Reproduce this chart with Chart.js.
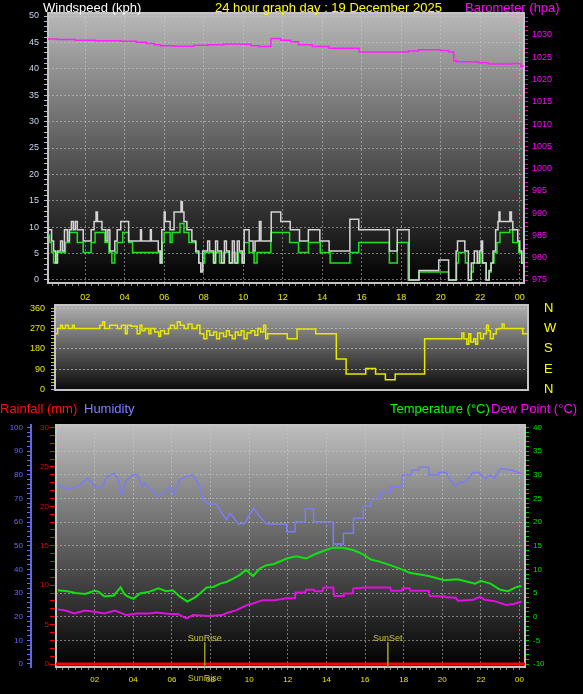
<!DOCTYPE html>
<html>
<head>
<meta charset="utf-8">
<script src="https://cdn.jsdelivr.net/npm/chart.js@4.4.1/dist/chart.umd.min.js"></script>
<style>
body{margin:0;background:#000;width:583px;height:694px;overflow:hidden;position:relative;font-family:"Liberation Sans",Arial,sans-serif}
canvas{position:absolute;left:0}
.t{position:absolute;font-size:13px;line-height:16px;white-space:nowrap}
</style>
</head>
<body>
<canvas id="windChart" width="583" height="303" style="top:0"></canvas>
<canvas id="dirChart" width="583" height="95" style="top:300px"></canvas>
<canvas id="tempChart" width="583" height="279" style="top:415px"></canvas>

<div class="t" style="left:43px;top:0;color:#fff">Windspeed (kph)</div>
<div class="t" style="left:215px;top:0;color:#ffff00">24 hour graph day : 19 December 2025</div>
<div class="t" style="left:465px;top:0;color:#ff00ff">Barometer (hpa)</div>
<div class="t" style="left:0;top:401px;color:#ff1010">Rainfall (mm)</div>
<div class="t" style="left:84px;top:401px;color:#8080ff">Humidity</div>
<div class="t" style="left:390px;top:401px;color:#00ff00">Temperature (°C)</div>
<div class="t" style="left:491px;top:401px;color:#ff00ff">Dew Point (°C)</div>

<script>
// times are hours of the day

// wind gust (kph)
const gustTimes = [0.12,0.3,0.4,0.5,0.6,0.75,0.85,0.95,1.1,1.2,1.3,1.4,1.5,1.6,1.9,2.3,2.45,2.55,2.62,2.85,3.05,3.15,3.25,3.5,3.62,3.8,4.2,4.8,4.85,5.3,5.35,5.7,5.8,5.88,6.0,6.05,6.3,6.5,6.85,6.92,7.0,7.15,7.4,7.6,7.75,7.85,7.95,8.2,8.3,8.5,8.6,8.7,8.9,9.05,9.15,9.3,9.45,9.55,9.7,9.8,9.95,10.05,10.3,10.5,10.6,10.82,10.9,11.42,11.9,12.38,12.85,13.3,13.88,14.35,15.4,15.85,17.4,17.8,18.4,18.9,19.9,20.4,20.78,20.85,21.22,21.4,21.55,21.7,21.85,21.95,22.05,22.12,22.3,22.45,22.55,22.65,22.78,22.9,22.95,23.0,23.5,23.58,23.65,23.9,24.0,24.1,24.22];
const gustVals  = [9.5,7.4,5.5,3.2,5.5,7.4,5.5,9.5,7.4,9.5,11.1,9.5,11.1,9.5,7.4,9.5,11.1,12.9,11.1,9.5,7.4,9.5,5.5,7.4,9.5,11.1,7.4,9.5,7.4,9.5,7.4,5.5,3.2,9.5,12.9,11.1,9.5,12.9,14.8,12.9,11.1,9.5,7.4,5.5,3.2,1.5,5.5,7.4,5.5,3.2,7.4,5.5,3.2,7.4,5.5,3.2,7.4,3.2,7.4,5.5,3.2,9.5,7.4,5.5,7.4,11.1,7.4,12.9,11.1,9.5,7.4,9.5,7.4,5.5,11.5,9.5,5.5,9.5,0,1.8,3.8,0,5.5,7.4,5.5,0,3.2,5.5,3.2,5.5,7.4,3.2,0,1.8,3.2,5.5,9.5,11.1,12.9,11.1,12.9,11.1,9.5,7.4,5.5,3.2,3.2];

// wind average (kph)
const avgTimes = [0.12,0.2,0.3,0.4,0.55,1.0,1.2,1.6,1.9,2.3,2.5,3.0,3.2,3.35,3.5,3.62,3.9,4.2,4.4,5.8,5.9,6.0,6.3,6.4,6.8,7.0,7.25,7.6,7.75,7.85,7.95,8.05,8.5,8.6,8.8,9.0,9.3,9.45,9.6,9.75,9.95,10.05,10.3,10.55,10.7,11.4,12.35,12.8,13.3,13.9,14.4,15.4,15.85,17.4,17.8,18.35,18.9,20.4,20.8,20.9,21.25,21.4,21.55,21.65,22.0,22.1,22.3,22.45,22.55,22.7,22.85,23.0,23.5,23.65,23.95,24.1,24.22];
const avgVals  = [8.5,7.1,5.2,3.2,5.2,7.1,9.0,7.1,5.2,7.1,9.0,7.1,5.2,3.2,5.2,7.1,9.0,7.1,5.2,3.2,7.1,9.0,7.1,9.0,10.7,9.0,7.1,5.2,3.2,1.8,3.2,5.2,3.2,5.2,3.2,5.2,3.2,5.2,3.2,5.2,3.2,7.1,5.2,3.2,5.2,9.0,7.1,5.2,7.1,5.2,3.2,5.2,7.1,3.2,7.1,0,1.5,0,3.2,5.2,3.2,0,1.5,3.2,5.2,3.2,0,1.5,3.2,5.2,7.1,9.0,9.5,7.1,5.2,3.2,3.2];

// barometer (hPa)
const baroTimes = [0.12,0.6,1.5,2.5,3.8,4.6,5.1,5.5,5.8,6.5,7.5,8.2,9.0,9.9,10.4,10.8,11.4,11.9,12.4,12.8,13.5,14.35,15.86,18.36,18.87,19.97,20.4,20.66,20.8,21.9,22.4,23.6,24.05,24.22];
const baroVals  = [1029.1,1029.0,1028.8,1028.7,1028.6,1028.4,1028.1,1027.8,1027.6,1027.5,1027.7,1027.8,1028.0,1027.9,1027.6,1027.4,1029.2,1028.8,1028.5,1027.8,1027.4,1027.0,1026.2,1026.4,1026.7,1026.5,1026.2,1024.2,1024.0,1023.8,1023.5,1023.6,1023.0,1022.9];

// wind direction (degrees)
const dirTimes = [0.15,0.25,0.4,0.5,0.65,0.8,1.0,1.1,2.4,2.55,2.65,2.9,3.3,3.5,3.7,3.8,4.0,4.3,4.45,4.55,4.7,4.9,5.0,5.2,5.4,5.5,5.7,5.9,6.0,6.2,6.35,6.5,6.7,6.9,7.1,7.35,7.5,7.7,7.85,8.0,8.2,8.35,8.5,8.7,8.85,9.0,9.15,9.3,9.45,9.6,9.75,9.9,10.1,10.3,10.45,10.6,10.75,10.85,10.95,11.95,12.45,13.4,14.45,14.95,15.95,16.45,16.95,17.45,18.95,20.85,20.95,21.1,21.2,21.3,21.45,21.55,21.65,21.8,21.95,22.1,22.2,22.3,22.45,22.6,22.75,22.9,23.0,23.95,24.3];
const dirVals  = [247,270,285,270,285,270,285,270,285,300,270,285,270,285,247,285,280,247,285,260,270,247,270,255,235,260,247,270,285,270,300,285,270,290,270,285,247,225,260,240,255,225,250,235,260,240,225,255,240,260,225,250,260,240,270,255,285,225,247,225,268,247,135,68,92,68,43,68,225,250,225,200,247,210,225,200,250,225,247,285,260,225,247,268,270,290,270,247,247];

// humidity (%)
const humTimes = [0.1,0.5,0.9,1.2,1.65,2.1,2.4,2.6,3.0,3.2,3.4,3.65,4.0,4.2,4.45,4.6,4.86,5.3,5.55,5.9,6.07,6.4,6.67,7.07,7.45,7.62,7.9,8.3,8.5,8.83,9.0,9.17,9.43,9.78,9.95,10.24,10.55,10.9,11.94,11.95,12.37,12.38,12.9,12.91,13.33,13.34,14.35,14.36,14.87,14.88,15.39,15.4,15.9,15.91,16.3,16.31,16.8,16.81,17.3,17.31,17.9,17.91,18.4,18.41,18.8,18.81,19.3,19.31,19.8,19.81,20.2,20.4,20.7,20.9,21.2,21.6,21.9,22.2,22.5,22.7,23.0,23.6,23.9,24.15];
const humVals  = [75.7,74,74.5,75.5,78.5,74.4,75,79,80.6,78.5,71.5,77.8,80,80,75,76.4,74.3,70.7,72.4,75,71.5,77.8,79,80,75,69.3,67.7,67.7,65,61,63.7,62.3,59.2,59.5,62.3,65.8,62.3,59.2,59.2,55.9,55.9,60.2,60.2,65.8,65.8,60.2,60.2,50.7,50.7,55.3,55.3,61.6,61.6,66.8,66.8,69.6,69.6,72.6,72.6,75,75,79.9,79.9,82,82,83.2,83.2,79.9,79.9,81,81,77.8,75.3,77,77,81,81,78.3,80,78.6,82.5,82,81,80.4];

// temperature (°C)
const tempTimes = [0.1,0.6,1.0,1.5,2.0,2.2,2.5,3.0,3.2,3.35,3.5,3.65,4.0,4.35,4.85,5.3,5.7,6.05,6.4,6.8,7.2,7.45,7.8,8.15,8.5,8.85,9.2,9.5,9.85,10.2,10.55,10.9,11.25,11.95,12.45,12.95,13.4,13.9,14.35,14.87,15.39,15.9,16.3,16.8,17.3,17.9,18.3,19.3,20.1,20.8,21.5,21.7,22.0,22.5,23.0,23.4,23.8,24.1];
const tempVals  = [5.6,5.4,5.0,4.8,5.5,5.3,4.3,4.5,5.5,6.2,5.0,4.4,3.8,4.9,5.3,6.0,5.4,5.6,4.3,3.2,4.1,4.9,6.2,6.3,7.0,7.4,8.1,8.8,9.9,8.6,10.2,10.9,11.1,12.3,12.8,12.3,13.2,14.0,14.6,14.6,14.1,13.2,12.1,11.6,10.9,10.0,9.3,8.6,7.7,7.9,7.2,7.0,7.6,7.0,5.7,5.4,6.2,6.5];

// dew point (°C)
const dewTimes = [0.1,0.5,0.95,1.5,1.9,2.5,3.05,3.65,4.2,4.85,5.2,5.9,6.3,6.75,7.1,7.9,8.6,8.85,9.35,9.85,10.2,10.7,11.3,11.95,12.37,12.4,12.9,12.95,13.35,13.4,13.8,13.85,14.35,14.4,14.87,14.9,15.35,15.4,15.9,16.0,17.3,17.35,17.9,17.95,18.3,18.35,19.3,19.35,20.1,20.2,20.7,20.8,21.2,21.6,21.95,22.2,22.7,23.3,23.7,24.1];
const dewVals  = [1.55,1.3,0.7,1.3,1.1,0.7,1.3,0.35,0.7,0.7,0.9,0.6,0.6,-0.35,0.35,0.15,0.35,0.8,1.4,2.4,2.8,3.5,3.5,3.9,3.9,5.1,5.1,5.7,5.7,5.4,5.4,6.2,6.2,4.4,4.4,4.9,4.9,6.0,6.1,6.2,6.2,5.5,5.5,6.0,6.0,5.5,5.5,4.4,4.3,4.1,4.0,3.4,3.5,3.6,4.2,3.6,3.3,2.5,2.7,3.2];

// rainfall (mm)
const rainTimes = [0, 24.29];
const rainVals  = [0, 0];

// sun events
const sunTimes  = [7.7, 17.18];
const sunLabels = ['SunRise', 'SunSet'];

const hourTicks = ['02','04','06','08','10','12','14','16','18','20','22','00'];

Chart.defaults.font.family = '"Liberation Sans", Arial, sans-serif';
Chart.defaults.animation = false;
Chart.defaults.plugins.legend.display = false;
Chart.defaults.plugins.tooltip.enabled = false;
Chart.defaults.elements.point.radius = 0;

const pts = (times, vals) => times.map((t, i) => ({x: t * 60, y: vals[i]}));
const NONE = 'rgba(0,0,0,0)';
const DOT = 'rgba(200,200,200,0.55)';
// show a grid line only on multiples of n
const every = (n, col) => c => (c.tick && Math.abs(c.tick.value / n - Math.round(c.tick.value / n)) < 1e-6) ? col : NONE;
const hourLabel = v => (v > 0 && v % 120 === 0) ? hourTicks[v / 120 - 1] : '';

const panelBg = {
  id: 'panelBg',
  beforeDraw(chart, args, opts) {
    const {ctx, chartArea: a} = chart;
    const g = ctx.createLinearGradient(0, a.top, 0, a.bottom);
    g.addColorStop(0, opts.top);
    g.addColorStop(1, opts.bottom);
    ctx.save();
    ctx.fillStyle = g;
    ctx.fillRect(a.left, a.top, a.right - a.left, a.bottom - a.top);
    ctx.restore();
  },
  beforeDatasetsDraw(chart) {
    const {ctx, chartArea: a} = chart;
    ctx.save();
    ctx.strokeStyle = '#c4c4c4';
    ctx.lineWidth = 2;
    ctx.strokeRect(a.left, a.top, a.right - a.left, a.bottom - a.top);
    ctx.restore();
  }
};

const sunMarks = {
  id: 'sunMarks',
  afterDatasetsDraw(chart) {
    const xs = chart.scales.x, ys = chart.scales.temp, ctx = chart.ctx;
    ctx.save();
    ctx.font = '9px "Liberation Sans", Arial';
    ctx.fillStyle = '#c8c038';
    ctx.textAlign = 'center';
    sunTimes.forEach((t, i) => {
      ctx.fillText(sunLabels[i], xs.getPixelForValue(t * 60), ys.getPixelForValue(-5.4) - 1);
    });
    // sunrise text is also printed over the time labels
    ctx.textBaseline = 'middle';
    ctx.fillText(sunLabels[0], xs.getPixelForValue(sunTimes[0] * 60), xs.top + 12);
    ctx.restore();
  }
};

// fixed axis sizes so the plot areas sit where the picture has them
function fixSize(size) {
  return s => {
    if (s.isHorizontal()) { s.height = size; s.paddingLeft = 0; s.paddingRight = 0; }
    else { s.width = size; s.paddingTop = 0; s.paddingBottom = 0; }
  };
}

function timeAxis(min, max, size, fontSize, show, pad) {
  return {
    type: 'linear', min: min, max: max, display: show,
    afterFit: fixSize(size),
    ticks: {stepSize: 20, autoSkip: false, includeBounds: false, maxRotation: 0,
            color: '#e8e800', font: {size: fontSize}, padding: pad || 5, callback: hourLabel},
    grid: {color: every(120, DOT), tickColor: '#8a8a8a', tickLength: 3},
    border: {display: false, dash: [2, 2]}
  };
}

function valueAxis(pos, width, min, max, step, labelEvery, col, fontSize, opt) {
  opt = opt || {};
  return {
    type: 'linear', position: pos, min: min, max: max, weight: opt.weight || 0,
    afterFit: fixSize(width),
    ticks: {stepSize: step, autoSkip: false, includeBounds: false, color: col,
            font: {size: fontSize}, padding: opt.padding || 4,
            callback: v => (Math.abs(v / labelEvery - Math.round(v / labelEvery)) < 1e-6) ? v : ''},
    grid: {color: opt.gridEvery ? every(opt.gridEvery, opt.gridCol || DOT) : NONE,
           drawOnChartArea: !!opt.gridEvery, tickColor: opt.tickCol || col, tickLength: opt.tickLength || 4},
    border: opt.border || {display: false, dash: [2, 2]}
  };
}

// top panel: windspeed + barometer
new Chart(document.getElementById('windChart'), {
  type: 'line',
  data: {datasets: [
    {data: pts(baroTimes, baroVals), yAxisID: 'baro', borderColor: '#ff20ff', borderWidth: 1.5, stepped: true},
    {data: pts(gustTimes, gustVals), yAxisID: 'y', borderColor: '#d4d4d4', borderWidth: 1.5, stepped: true},
    {data: pts(avgTimes, avgVals), yAxisID: 'y', borderColor: '#22e022', borderWidth: 1.5, stepped: true}
  ]},
  options: {
    responsive: false,
    layout: {autoPadding: false, padding: {top: 13, left: 0, right: 0, bottom: 0}},
    plugins: {panelBg: {top: '#b8b8b8', bottom: '#000000'}},
    scales: {
      x: timeAxis(7, 1453, 20, 9, true, 6),
      y: valueAxis('left', 48, -0.57, 50.57, 1, 5, '#c8d4f0', 9, {gridEvery: 5, tickCol: '#b0b8d0', padding: 5}),
      baro: valueAxis('right', 59, 974.33, 1034.94, 1, 5, '#ff00ff', 9, {tickCol: '#d000d0'})
    }
  },
  plugins: [panelBg]
});

// middle panel: wind direction
const compass = {360: 'N', 270: 'W', 180: 'S', 90: 'E', 0: 'N'};
new Chart(document.getElementById('dirChart'), {
  type: 'line',
  data: {datasets: [
    {data: pts(dirTimes, dirVals), yAxisID: 'y', borderColor: '#e8e800', borderWidth: 1.5, stepped: true}
  ]},
  options: {
    responsive: false,
    layout: {autoPadding: false, padding: {top: 5, bottom: 5, left: 0, right: 0}},
    plugins: {panelBg: {top: '#b0b0b0', bottom: '#0a0a0a'}},
    scales: {
      x: timeAxis(7, 1453, 0, 9, false),
      y: valueAxis('left', 55, -3.1, 374.7, 15, 90, '#e8e800', 9, {gridEvery: 90, gridCol: 'rgba(215,215,215,0.6)', tickCol: '#c8c800', padding: 6}),
      dir: {
        type: 'linear', position: 'right', min: -3.1, max: 374.7,
        afterFit: fixSize(55),
        ticks: {stepSize: 90, autoSkip: false, includeBounds: false, color: '#ffff00', font: {size: 13}, padding: 16,
                callback: v => compass[v] || ''},
        grid: {drawOnChartArea: false, drawTicks: false},
        border: {display: false}
      }
    }
  },
  plugins: [panelBg]
});

// bottom panel: rainfall, humidity, temperature, dew point
const sunSets = sunTimes.map(t => ({
  data: [{x: t * 60, y: -5.4}, {x: t * 60, y: -10.63}], yAxisID: 'temp',
  borderColor: '#9a9a28', borderWidth: 1
}));
new Chart(document.getElementById('tempChart'), {
  type: 'line',
  data: {datasets: [
    {data: pts(humTimes, humVals), yAxisID: 'hum', borderColor: '#7c7cf4', borderWidth: 1.5},
    {data: pts(tempTimes, tempVals), yAxisID: 'temp', borderColor: '#12e012', borderWidth: 2},
    {data: pts(dewTimes, dewVals), yAxisID: 'temp', borderColor: '#e010e0', borderWidth: 2},
    ...sunSets,
    {data: pts(rainTimes, rainVals), yAxisID: 'rain', borderColor: '#ff0000', borderWidth: 3}
  ]},
  options: {
    responsive: false,
    layout: {autoPadding: false, padding: {top: 10, left: 0, right: 0, bottom: 0}},
    plugins: {panelBg: {top: '#bebebe', bottom: '#000000'}},
    scales: {
      x: timeAxis(0, 1457, 27, 8, true, 5),
      hum: valueAxis('left', 31, -1.27, 101.06, 2, 10, '#6a6aff', 8,
                     {weight: 1, tickLength: 4, padding: 4, border: {display: true, color: '#6464e8', width: 2}}),
      rain: valueAxis('left', 25, -0.38, 30.32, 1, 5, '#ee0000', 8, {tickLength: 6, padding: 1}),
      temp: valueAxis('right', 58, -10.63, 40.53, 1, 5, '#00e000', 8, {gridEvery: 5, tickCol: '#00c000', padding: 4})
    }
  },
  plugins: [panelBg, sunMarks]
});
</script>
</body>
</html>
